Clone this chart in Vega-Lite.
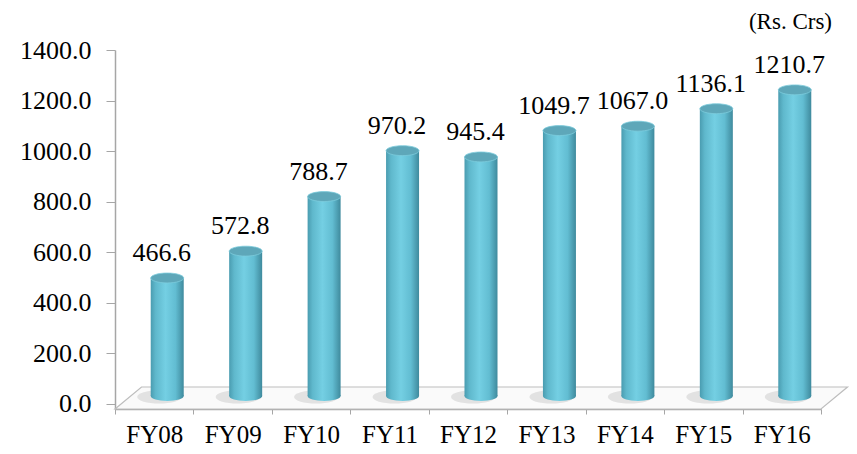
{
  "$schema": "https://vega.github.io/schema/vega-lite/v6.json",
  "autosize": "none",
  "width": 706,
  "height": 359,
  "padding": {"left": 115, "top": 50, "right": 36, "bottom": 45},
  "background": "white",
  "config": {
    "view": {"stroke": null},
    "font": "Liberation Serif"
  },
  "title": {
    "text": "(Rs. Crs)",
    "anchor": "end",
    "frame": "group",
    "font": "Liberation Serif",
    "fontSize": 23,
    "fontWeight": "normal",
    "color": "black",
    "dx": 11,
    "offset": 3
  },
  "datasets": {
    "main": [
      {"fy": "FY08", "v": 466.6},
      {"fy": "FY09", "v": 572.8},
      {"fy": "FY10", "v": 788.7},
      {"fy": "FY11", "v": 970.2},
      {"fy": "FY12", "v": 945.4},
      {"fy": "FY13", "v": 1049.7},
      {"fy": "FY14", "v": 1067.0},
      {"fy": "FY15", "v": 1136.1},
      {"fy": "FY16", "v": 1210.7}
    ],
    "floor": [
      {"fx": 0, "top": -20, "bot": -20},
      {"fx": 0.338, "top": 67, "bot": -20},
      {"fx": 9, "top": 67, "bot": -20},
      {"fx": 9.338, "top": 67, "bot": 67}
    ]
  },
  "resolve": {"scale": {"x": "independent"}, "axis": {"x": "independent"}},
  "layer": [
    {
      "data": {"name": "floor"},
      "mark": {"type": "area", "orient": "vertical", "fill": "#fafafa", "stroke": "#bdbdbd", "strokeWidth": 1.2},
      "encoding": {
        "x": {"field": "fx", "type": "quantitative", "scale": {"domain": [0, 9], "nice": false, "zero": false}, "axis": null},
        "y": {"field": "top", "type": "quantitative", "scale": {"domain": [-20, 1400], "nice": false, "zero": false}, "axis": {
          "values": [0, 200, 400, 600, 800, 1000, 1200, 1400],
          "format": ".1f",
          "grid": false,
          "title": null,
          "domainColor": "#a6a6a6",
          "domainWidth": 1.5,
          "tickColor": "#a6a6a6",
          "tickSize": 9,
          "labelFont": "Liberation Serif",
          "labelFontSize": 26,
          "labelColor": "black",
          "labelPadding": 15
        }},
        "y2": {"field": "bot"}
      }
    },
    {
      "data": {"name": "main"},
      "layer": [
        {
          "mark": {"type": "point", "shape": "M -1 0 A 1 0.3 0 1 1 1 0 A 1 0.3 0 1 1 -1 0 Z", "size": 1936, "filled": true, "color": "#8f8f8f", "opacity": 0.22, "xOffset": 5, "yOffset": -7},
          "encoding": {
            "x": {"field": "fy", "type": "nominal", "scale": {"paddingInner": 0, "paddingOuter": 0}, "axis": {
              "title": null,
              "labelAngle": 0,
              "labelFont": "Liberation Serif",
              "labelFontSize": 25,
              "labelColor": "black",
              "labelPadding": 8,
              "domainColor": "#a6a6a6",
              "domainWidth": 1.5,
              "tickColor": "#a6a6a6",
              "tickSize": 5,
              "tickBand": "extent"
            }},
            "y": {"datum": 0, "type": "quantitative"}
          }
        },
        {
          "mark": {"type": "point", "shape": "M -1 0 A 1 0.3 0 1 1 1 0 A 1 0.3 0 1 1 -1 0 Z", "size": 1089, "filled": true, "opacity": 1, "xOffset": 13, "yOffset": -8,
            "color": {"gradient": "linear", "x1": 0, "y1": 0, "x2": 1, "y2": 0, "stops": [
              {"offset": 0, "color": "#4a9cb0"},
              {"offset": 0.15, "color": "#5fb8cc"},
              {"offset": 0.45, "color": "#74cfe3"},
              {"offset": 0.75, "color": "#62bdd2"},
              {"offset": 1, "color": "#3f8a9d"}
            ]}},
          "encoding": {
            "x": {"field": "fy", "type": "nominal"},
            "y": {"datum": 0, "type": "quantitative"}
          }
        },
        {
          "mark": {"type": "bar", "width": 33, "xOffset": 13, "x2Offset": 13, "yOffset": -8, "y2Offset": -8,
            "color": {"gradient": "linear", "x1": 0, "y1": 0, "x2": 1, "y2": 0, "stops": [
              {"offset": 0, "color": "#4a9cb0"},
              {"offset": 0.15, "color": "#5fb8cc"},
              {"offset": 0.45, "color": "#74cfe3"},
              {"offset": 0.75, "color": "#62bdd2"},
              {"offset": 1, "color": "#3f8a9d"}
            ]}},
          "encoding": {
            "x": {"field": "fy", "type": "nominal"},
            "y": {"field": "v", "type": "quantitative"},
            "y2": {"datum": 0}
          }
        },
        {
          "mark": {"type": "point", "shape": "M -1 0 A 1 0.3 0 1 1 1 0 A 1 0.3 0 1 1 -1 0 Z", "size": 1089, "filled": true, "opacity": 1, "xOffset": 13, "yOffset": -8, "fill": "#5ea7b9", "stroke": "#7ccbdc", "strokeWidth": 0.8},
          "encoding": {
            "x": {"field": "fy", "type": "nominal"},
            "y": {"field": "v", "type": "quantitative"}
          }
        },
        {
          "mark": {"type": "text", "font": "Liberation Serif", "fontSize": 26, "color": "black", "baseline": "middle", "align": "center", "xOffset": 7.5, "yOffset": -33},
          "encoding": {
            "x": {"field": "fy", "type": "nominal"},
            "y": {"field": "v", "type": "quantitative"},
            "text": {"field": "v", "type": "quantitative", "format": ".1f"}
          }
        }
      ]
    }
  ]
}
